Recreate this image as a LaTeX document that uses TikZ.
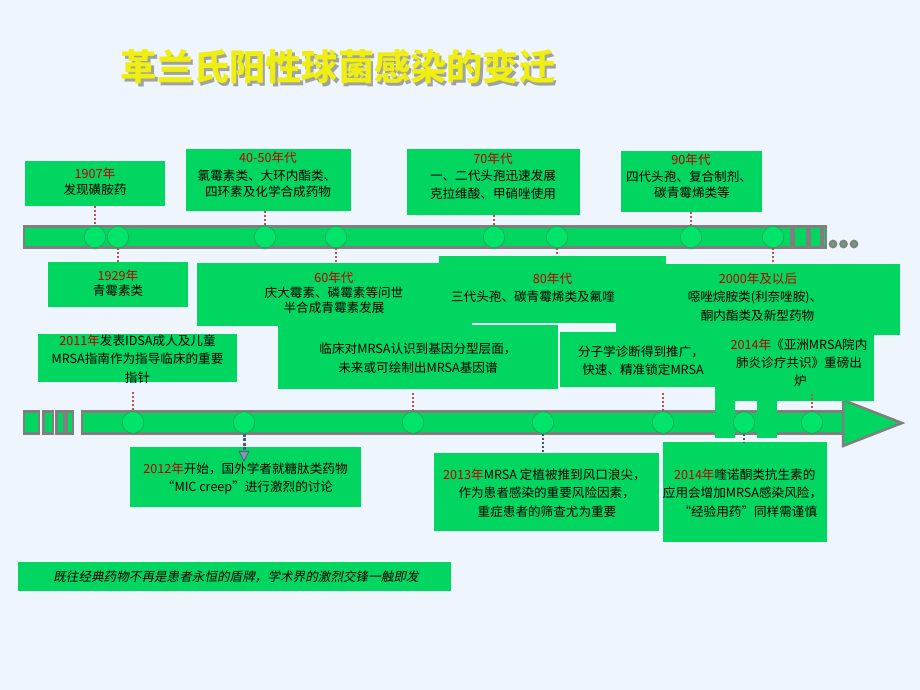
\documentclass[tikz,border=0pt]{standalone}
\usepackage{fontspec}
\setmainfont{Noto Sans CJK SC}
\newfontfamily\cjkit[FakeSlant=0.2]{Noto Sans CJK SC}
\usetikzlibrary{arrows.meta,shadows}
\definecolor{bg}{HTML}{EEF5FC}
\definecolor{gbox}{HTML}{00D660}
\definecolor{gcirc}{HTML}{00E46A}
\definecolor{gedge}{HTML}{1FA055}
\definecolor{bargray}{HTML}{7F7F7F}
\definecolor{yr}{HTML}{C00000}
\definecolor{reddot}{HTML}{C0504D}
\definecolor{bluedot}{HTML}{44546A}
\definecolor{titley}{HTML}{EEEE10}
\definecolor{arrfill}{HTML}{8496B0}
\definecolor{arrline}{HTML}{4A5A78}
\definecolor{dotfill}{HTML}{6B9E78}
\tikzset{
  box/.style={fill=gbox, inner sep=0pt, outer sep=0pt},
  txt/.style={font=\fontsize{12.6}{15}\selectfont, inner sep=0pt, text height=10.3pt, text depth=0.8pt, anchor=center},
  yrtxt/.style={txt, text=yr},
  circ/.style={circle, fill=gcirc, draw=gedge, line width=0.5pt, minimum size=21.5pt, inner sep=0pt,
    drop shadow={opacity=0.25, shadow xshift=0pt, shadow yshift=-2pt}},
  rdot/.style={draw=reddot, line width=2pt, dash pattern=on 2pt off 2pt},
  bdot/.style={draw=bluedot, line width=2pt, dash pattern=on 2pt off 2pt},
  barline/.style={fill=gbox, draw=bargray, line width=2.5pt},
  titletxt/.style={font=\fontsize{36.2}{38}\selectfont\bfseries, inner sep=0pt}
}
\begin{document}
\begin{tikzpicture}[x=1pt,y=-1pt]
\useasboundingbox (0,0) rectangle (920,690);
\fill[bg] (0,0) rectangle (920,690);

% title with its drop shadow
\node[titletxt, text=black!70!olive, opacity=0.45] (titlesh) at (340.5,69.5) {革兰氏阳性球菌感染的变迁};
\node[titletxt, text=titley] (title) at (338,67) {革兰氏阳性球菌感染的变迁};

% top bar
\draw[barline] (24,226.5) rectangle (791,247.5);
\draw[barline] (793.5,226.5) rectangle (807.5,247.5);
\draw[barline] (809.5,226.5) rectangle (821,247.5);
\draw[barline] (822.5,226.5) rectangle (826,247.5);
\foreach \px in {833,843.5,854}
  \draw[bargray, fill=dotfill, line width=1.8pt] (\px,244) circle (3.4);

% bottom bar
\draw[barline] (82,411.5) rectangle (843,433.5);
\draw[barline] (24,411.5) rectangle (39,433.5);
\draw[barline] (43.5,411.5) rectangle (53,433.5);
\draw[barline] (56.5,411.5) rectangle (64,433.5);
\draw[barline] (66.5,411.5) rectangle (73,433.5);
\draw[barline, line join=miter] (843,400) -- (902,423) -- (843,446) -- cycle;

% boxes
\node[box, minimum width=140pt, minimum height=45pt] (b1907) at (95,183.5) {};
\node[box, minimum width=165pt, minimum height=62pt] (b4050) at (268.5,180) {};
\node[box, minimum width=173pt, minimum height=66pt] (b70) at (493.5,182) {};
\node[box, minimum width=141pt, minimum height=61pt] (b90) at (691.5,181.5) {};
\node[box, minimum width=140pt, minimum height=45pt] (b1929) at (118,284.5) {};
\node[box, minimum width=280pt, minimum height=64pt] (bclin) at (418,357) {};
\node[box, minimum width=275pt, minimum height=63pt] (b60) at (334.5,294.5) {};
\node[box, minimum width=227pt, minimum height=67pt] (b80) at (552.5,289.5) {};
\node[box, minimum width=284pt, minimum height=71pt] (b2000) at (758,299.5) {};
\node[box, minimum width=155pt, minimum height=55pt] (bmol) at (637.5,359.5) {};
\node[box, minimum width=159pt, minimum height=66pt] (basia) at (794.5,368) {};
\node[box, minimum width=199pt, minimum height=48pt] (b2011) at (137.5,358) {};
\node[box, minimum width=231pt, minimum height=60pt] (b2012) at (245.5,477) {};
\node[box, minimum width=225pt, minimum height=78pt] (b2013) at (546.5,492) {};
\node[box, minimum width=164pt, minimum height=100pt] (b2014) at (745,492) {};
\node[box, minimum width=433pt, minimum height=29pt] (banner) at (234.5,576.5) {};
% legs of the 2014 box over the bar
\fill[gbox] (715,395) rectangle (735,438);
\fill[gbox] (757,395) rectangle (777,438);

% circles
\foreach \n/\px in {1/95,2/118,3/265,4/336,5/494,6/557,7/691,8/773}
  \node[circ] (ct\n) at (\px,237) {};
\foreach \n/\px in {1/133,2/244,3/413,4/543,5/663,6/744,7/812}
  \node[circ] (cb\n) at (\px,422.5) {};

% connectors
\draw[rdot] (b1907.south -| ct1.north) -- (ct1.north);
\draw[rdot] (b4050.south -| ct3.north) -- (ct3.north);
\draw[rdot] (b70.south -| ct5.north) -- (ct5.north);
\draw[rdot] (b90.south -| ct7.north) -- (ct7.north);
\draw[rdot] (ct2.south) -- (b1929.north -| ct2.south);
\draw[rdot] (ct4.south) -- (b60.north -| ct4.south);
\draw[rdot] (ct6.south) -- (b80.north -| ct6.south);
\draw[rdot] (ct8.south) -- (b2000.north -| ct8.south);
\coordinate (e2011) at (133,392);
\coordinate (eclin) at (413,393);
\coordinate (emol) at (663,393);
\coordinate (easia) at (812,394);
\draw[rdot] (e2011) -- (cb1.north);
\draw[rdot] (eclin) -- (cb3.north);
\draw[rdot] (emol) -- (cb5.north);
\draw[rdot] (easia) -- (cb7.north);
\draw[bdot] (cb4.south) -- (b2013.north -| cb4.south);
\draw[bdot] (cb6.south) -- (b2014.north -| cb6.south);
\draw[draw=arrline, line width=3pt, dash pattern=on 3pt off 1.5pt,
  -{Triangle[width=11pt,length=11pt,fill=arrfill,line width=0.8pt]}]
  (cb2.south) -- ([yshift=-15pt]b2012.north -| cb2.south);

% texts
\node[yrtxt] (t1907a) at (95,174) {1907年};
\node[txt] (t1907b) at (95,190) {发现磺胺药};
\node[yrtxt] (t4050a) at (268,158) {40-50年代};
\node[txt] (t4050b) at (267,176) {氯霉素类、大环内酯类、};
\node[txt] (t4050c) at (268,192) {四环素及化学合成药物};
\node[yrtxt] (t70a) at (493,159) {70年代};
\node[txt] (t70b) at (493,176) {一、二代头孢迅速发展};
\node[txt] (t70c) at (493,194) {克拉维酸、甲硝唑使用};
\node[yrtxt] (t90a) at (691,160) {90年代};
\node[txt] (t90b) at (689,177) {四代头孢、复合制剂、};
\node[txt] (t90c) at (692,193) {碳青霉烯类等};
\node[yrtxt] (t1929a) at (118,276) {1929年};
\node[txt] (t1929b) at (118,291) {青霉素类};
\node[yrtxt] (t60a) at (334,278) {60年代};
\node[txt] (t60b) at (334,293) {庆大霉素、磷霉素等问世};
\node[txt] (t60c) at (334,308) {半合成青霉素发展};
\node[yrtxt] (t80a) at (552.5,279) {80年代};
\node[txt] (t80b) at (533,297) {三代头孢、碳青霉烯类及氟喹};
\node[yrtxt] (t2000a) at (758,279) {2000年及以后};
\node[txt] (t2000b) at (755,297) {噁唑烷胺类(利奈唑胺)、};
\node[txt] (t2000c) at (757.5,316) {酮内酯类及新型药物};
\node[txt] (t2011a) at (137.5,341) {\textcolor{yr}{2011年}发表IDSA成人及儿童};
\node[txt] (t2011b) at (137.5,359) {MRSA指南作为指导临床的重要};
\node[txt] (t2011c) at (137.5,378) {指针};
\node[txt] (tclina) at (418,349) {临床对MRSA认识到基因分型层面，};
\node[txt] (tclinb) at (418,368) {未来或可绘制出MRSA基因谱};
\node[txt] (tmola) at (641,352) {分子学诊断得到推广，};
\node[txt] (tmolb) at (643,370) {快速、精准锁定MRSA};
\node[txt] (tasiaa) at (799,345) {\textcolor{yr}{2014年}《亚洲MRSA院内};
\node[txt] (tasiab) at (799,363) {肺炎诊疗共识》重磅出};
\node[txt] (tasiac) at (800.5,381) {炉};
\node[txt] (t2012a) at (245.5,469) {\textcolor{yr}{2012年}开始，国外学者就糖肽类药物};
\node[txt] (t2012b) at (247.5,487) {“MIC creep”进行激烈的讨论};
\node[txt] (t2013a) at (544.5,475) {\textcolor{yr}{2013年}MRSA 定植被推到风口浪尖，};
\node[txt] (t2013b) at (546.7,493) {作为患者感染的重要风险因素，};
\node[txt] (t2013c) at (547,512) {重症患者的筛查尤为重要};
\node[txt] (t2014a) at (744.7,475) {\textcolor{yr}{2014年}喹诺酮类抗生素的};
\node[txt] (t2014b) at (742.5,493) {应用会增加MRSA感染风险，};
\node[txt] (t2014c) at (747.8,512) {“经验用药”同样需谨慎};
\node[txt, font=\fontsize{12.6}{15}\selectfont\cjkit] (tban) at (236,576.5) {既往经典药物不再是患者永恒的盾牌，学术界的激烈交锋一触即发};
\end{tikzpicture}
\end{document}
